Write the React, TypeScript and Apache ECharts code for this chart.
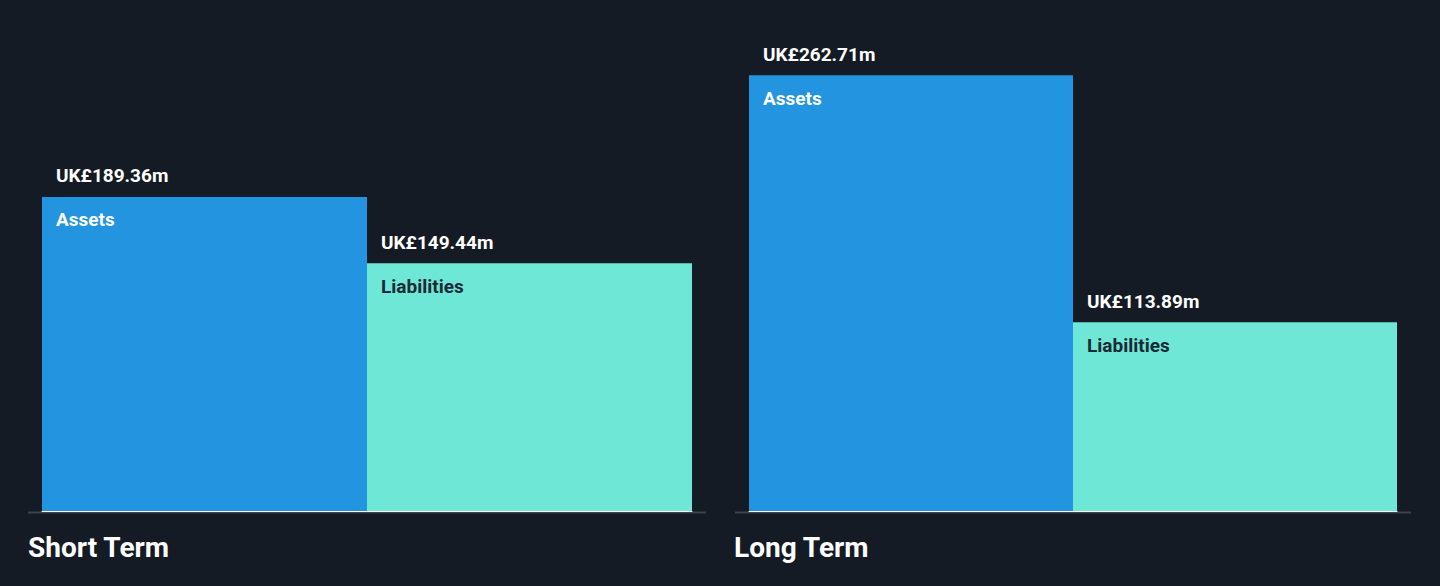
import React, { useEffect, useRef } from "react";
import * as echarts from "echarts";

const categories = ["Short Term", "Long Term"];
const seriesNames = ["Assets", "Liabilities"];
const assetsValues = [189.36, 262.71];
const liabilitiesValues = [149.44, 113.89];
const valueLabels = [
  ["UK£189.36m", "UK£262.71m"],
  ["UK£149.44m", "UK£113.89m"],
];

const BG = "#151b24";
const COLORS = ["#2394df", "#6ee7d6"];
const NAME_COLORS = ["#ffffff", "#1b2a35"];

export default function App() {
  const ref = useRef<HTMLDivElement>(null);
  useEffect(() => {
    document.body.style.margin = "0";
    document.body.style.background = BG;
    const chart = echarts.init(ref.current!, null, { renderer: "svg" });
    const grids = [
      { left: 42, width: 650, top: 13.5, bottom: 75 },
      { left: 749, width: 648, top: 13.5, bottom: 75 },
    ];
    const series: any[] = [];
    categories.forEach((cat, gi) => {
      [assetsValues, liabilitiesValues].forEach((vals, si) => {
        series.push({
          type: "bar",
          name: seriesNames[si],
          xAxisIndex: gi,
          yAxisIndex: gi,
          barGap: "0%",
          barCategoryGap: "0%",
          data: [vals[gi]],
          itemStyle: { color: COLORS[si] },
          label: {
            show: true,
            position: [14, -43],
            formatter: () => `{v|${valueLabels[si][gi]}}\n{n|${seriesNames[si]}}`,
            rich: {
              v: {
                color: "#ffffff",
                fontFamily: "Roboto",
                fontWeight: "bold",
                fontSize: 19,
                lineHeight: 44,
              },
              n: {
                color: NAME_COLORS[si],
                fontFamily: "Roboto",
                fontWeight: "bold",
                fontSize: 19,
                lineHeight: 44,
              },
            },
          },
        });
      });
    });
    chart.setOption({
      animation: false,
      backgroundColor: BG,
      grid: grids,
      xAxis: categories.map((c, i) => ({
        type: "category",
        gridIndex: i,
        data: [c],
        axisLine: { show: true, lineStyle: { color: "#ffffff", width: 1 } },
        axisTick: { show: false },
        axisLabel: { show: false },
      })),
      yAxis: categories.map((c, i) => ({
        type: "value",
        gridIndex: i,
        min: 0,
        max: 300,
        show: false,
        splitLine: { show: false },
      })),
      series,
      graphic: [
        ...[
          [28, 706],
          [735, 1411],
        ].map(([x1, x2]) => ({
          type: "line",
          shape: { x1, y1: 512.5, x2, y2: 512.5 },
          style: { stroke: "#3d434c", lineWidth: 2 },
          z: 0,
        })),
        ...categories.map((c, i) => ({
          type: "text",
          left: i === 0 ? 28 : 734,
          top: 533,
          style: {
            text: c,
            fill: "#ffffff",
            font: "bold 28px Roboto",
          },
        })),
      ],
    });
    return () => chart.dispose();
  }, []);
  return <div ref={ref} style={{ width: 1440, height: 586 }} />;
}
